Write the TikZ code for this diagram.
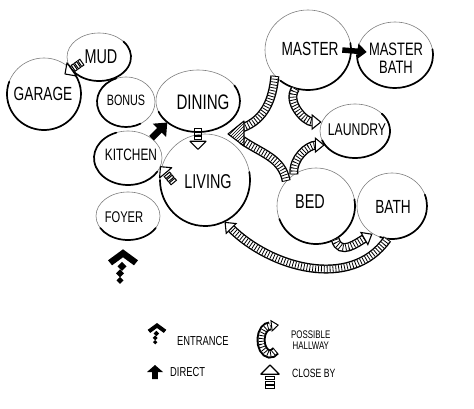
\documentclass[tikz,border=0pt]{standalone}
\usepackage{fontspec}
\setmainfont{Liberation Sans}[FakeStretch=0.72]
\usetikzlibrary{shapes.geometric,arrows.meta,calc,patterns}
\newcommand\lblsize[1]{\fontsize{#1}{#1}\selectfont}
\tikzset{
  room/.style={ellipse, inner sep=0pt, draw=black!50, line width=0.6pt},
  bold/.style={line width=1.7pt, line cap=round},
  lbl/.style={inner sep=0pt, align=center},
  hall/.style={line width=6.2pt, draw=black, dash pattern=on 0.8pt off 2.1pt,
     preaction={draw=black, solid, line width=9pt},
     preaction={draw=white, solid, line width=6.2pt}},
  halltip/.style={line width=1.1pt, -{Triangle[length=10pt,width=16pt,fill=white]}},
  direct/.style={line width=5.5pt, -{Triangle[length=9pt,width=15pt]}},
  entrancemark/.pic={
    \fill (0,0) -- (15,-11) -- (11,-16) -- (0,-8) -- (-11,-16) -- (-15,-11) -- cycle;
    \fill (-1,-12.5) -- (3.5,-17) -- (-1,-21.5) -- (-5.5,-17) -- cycle;
    \fill (-3,-20) -- (1,-24) -- (-3,-28) -- (-7,-24) -- cycle;
    \fill (-3,-27.5) -- (0.5,-31) -- (-3,-34.5) -- (-6.5,-31) -- cycle;
  },
  directmark/.pic={
    \fill (0,0) -- (8,-7) -- (2.8,-7) -- (2.8,-14) -- (-2.8,-14) -- (-2.8,-7) -- (-8,-7) -- cycle;
  },
  closeby/.pic={
    \draw[fill=white, line width=1.1pt, line join=round] (0,0) -- (8,-8) -- (-8,-8) -- cycle;
    \foreach \k in {0,1,2} \draw[line width=1pt] (-3.5,-10-4*\k) rectangle (3.5,-12.6-4*\k);
  }
}
\newcommand\roomnode[7]{%
  \node[room, minimum width=2*#4pt, minimum height=2*#5pt] (#1) at (#2,-#3) {};
  \draw[bold] ($(#1.center)+(#6:#4 and #5)$) arc[start angle=#6, end angle=#7, x radius=#4, y radius=#5];}
\begin{document}
\begin{tikzpicture}[x=1pt,y=1pt]
\useasboundingbox (0,0) rectangle (474,-409);
\fill[white] (0,0) rectangle (474,-409);

% rooms
\roomnode{garage}{44}{94}{37}{36}{160}{400}
\roomnode{mud}{99}{57}{32}{24}{200}{400}
\roomnode{bonus}{126}{102}{29}{25}{110}{300}
\roomnode{dining}{198}{101}{42}{31}{200}{390}
\roomnode{kitchen}{128}{158}{34}{27}{110}{330}
\roomnode{living}{205}{180}{45}{46}{180}{370}
\roomnode{foyer}{128}{216}{32}{24}{210}{330}
\roomnode{master}{308}{50}{43}{40}{230}{370}
\roomnode{mbath}{395}{55}{38}{33}{180}{370}
\roomnode{laundry}{355}{131}{35}{27}{200}{400}
\roomnode{bed}{316}{206}{39}{38}{200}{370}
\roomnode{bath}{392}{206}{35}{33}{250}{380}

% labels
\node[lbl, font=\lblsize{19}] (garage-t) at (43,-94) {GARAGE};
\node[lbl, font=\lblsize{20}] (mud-t) at (101,-57) {MUD};
\node[lbl, font=\lblsize{15}] (bonus-t) at (126,-100) {BONUS};
\node[lbl, font=\lblsize{21}] (dining-t) at (203,-102) {DINING};
\node[lbl, font=\lblsize{16.5}] (kitchen-t) at (131,-155) {KITCHEN};
\node[lbl, font=\lblsize{20}] (living-t) at (208,-182) {LIVING};
\node[lbl, font=\lblsize{15.5}] (foyer-t) at (124,-217) {FOYER};
\node[lbl, font=\lblsize{19}] (master-t) at (310,-49) {MASTER};
\node[lbl, font=\lblsize{18}] (mbath-t) at (396,-58) {MASTER\\BATH};
\node[lbl, font=\lblsize{17}] (laundry-t) at (357,-130) {LAUNDRY};
\node[lbl, font=\lblsize{20}] (bed-t) at (310,-202) {BED};
\node[lbl, font=\lblsize{19}] (bath-t) at (393,-207) {BATH};

% direct connections
\draw[direct, line width=6.5pt, -{Triangle[length=11pt,width=18pt]}] (kitchen.40) -- (dining.215);
\draw[direct] ([xshift=-9pt]master.east) -- ([shift={(10pt,3pt)}]mbath.west);

% close-by connections
\pic[rotate=125] at ([shift={(-5pt,-6pt)}]garage.45) {closeby};
\pic[rotate=180] at ([yshift=-17pt]dining.south) {closeby};
\pic[rotate=40] at (kitchen.-15) {closeby};

% entrance
\pic at ([shift={(-5pt,-9pt)}]foyer.south) {entrancemark};

% hallways to dining hub
\coordinate (hubtip) at (228,-134);
\coordinate (hubA) at ($(hubtip)+(14,6)$);
\coordinate (hubB) at ($(hubtip)+(14,-6)$);
\draw[hall] (master.218) to[out=265,in=20] (hubA);
\draw[hall] (bed.140) to[out=100,in=-35] (hubB);
\draw[fill=white, line width=1.1pt, line join=round, postaction={pattern=north east lines}] (hubtip) -- ++(16,13) -- ++(0,-25) -- cycle;

% hallways to laundry
\draw[hall, shorten >=9pt] (master.252) to[out=235,in=180] (laundry.165);
\draw[halltip] ($(laundry.165)+(180:10)$) -- (laundry.165);
\draw[hall, shorten >=9pt] (bed.125) to[out=95,in=180] (laundry.205);
\draw[halltip] ($(laundry.205)+(180:10)$) -- (laundry.205);

% bed to bath
\draw[hall, shorten >=9pt] (bed.-60) to[out=-75,in=210,looseness=1.2] (bath.235);
\draw[halltip] ($(bath.235)+(210:10)$) -- (bath.235);

% bath to living
\draw[hall, shorten >=9pt] (bath.262) to[out=235,in=-45] (living.-65);
\draw[halltip] ($(living.-65)+(-45:10)$) -- (living.-65);

% legend
\pic[scale=0.62] at (157,-323) {entrancemark};
\node[lbl, font=\lblsize{13}, anchor=west] (leg-ent) at (177,-341) {ENTRANCE};
\pic at (155,-365) {directmark};
\node[lbl, font=\lblsize{13}, anchor=west] (leg-dir) at (170,-372) {DIRECT};
\coordinate (legc) at (270,-340);
\draw[hall, line width=5pt, preaction={draw=black, solid, line width=7.5pt}, preaction={draw=white, solid, line width=5pt}]
  ($(legc)+(-50:9 and 14)$) arc[start angle=-50, end angle=-270, x radius=9, y radius=14];
\draw[line width=1pt, -{Triangle[length=8pt,width=12pt,fill=white]}] ($(legc)+(0,14)$) -- ++(9,1);
\node[lbl, font=\lblsize{11}, anchor=west] (leg-hall) at (291,-340) {POSSIBLE\\HALLWAY};
\pic[scale=1.15] at (270,-365) {closeby};
\node[lbl, font=\lblsize{12}, anchor=west] (leg-close) at (292,-373) {CLOSE BY};
\end{tikzpicture}
\end{document}
